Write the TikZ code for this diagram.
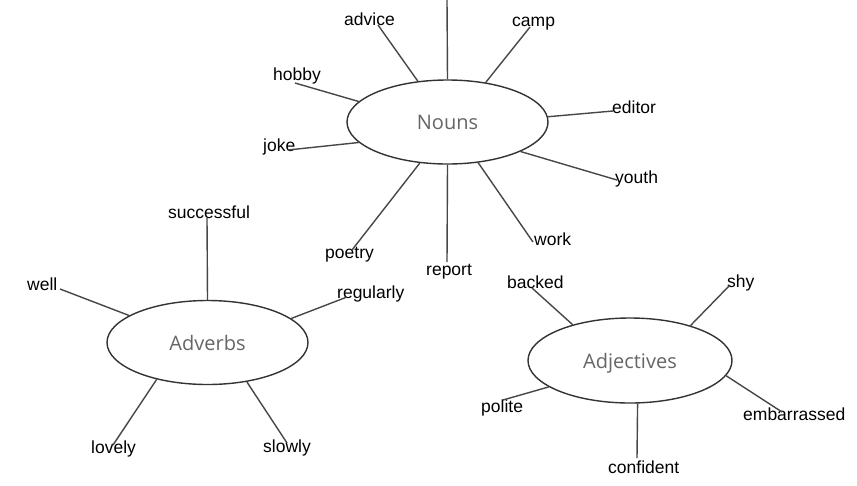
\documentclass[tikz,border=0pt]{standalone}
\usepackage{fontspec}
\setmainfont{Liberation Sans}
\newfontfamily\hubfont{Open Sans}
\usetikzlibrary{shapes.geometric}
\begin{document}
\begin{tikzpicture}[x=1pt,y=-1pt,
  word/.style={anchor=base west, inner sep=0pt, font=\fontsize{17.5}{20}\selectfont},
  hub/.style={draw=black!80, line width=1.4pt, ellipse, inner sep=0pt,
    minimum width=201pt, minimum height=84pt, text depth=0pt,
    font=\hubfont\fontsize{20}{24}\selectfont, text=black!60},
  spoke/.style={draw=black!72, line width=1.4pt}]
\useasboundingbox[fill=white] (0,0) rectangle (857,485);

% hubs
\node[hub] (N) at (447.5,122) {Nouns};
\node[hub] (AV) at (207.5,342.5) {Adverbs};
\node[hub, minimum width=204pt, minimum height=85pt] (AJ) at (630,360.5) {Adjectives};

% words
\node[word] (advice) at (344,25) {advice};
\node[word] (camp) at (512,26) {camp};
\node[word] (hobby) at (273,80) {hobby};
\node[word] (joke) at (263,151) {joke};
\node[word] (editor) at (612,113) {editor};
\node[word] (youth) at (615,183) {youth};
\node[word] (work) at (534,245) {work};
\node[word] (report) at (426,275) {report};
\node[word] (poetry) at (325,258) {poetry};
\node[word] (successful) at (168,218) {successful};
\node[word] (well) at (27,290) {well};
\node[word] (regularly) at (337,298) {regularly};
\node[word] (lovely) at (91,453) {lovely};
\node[word] (slowly) at (263,452) {slowly};
\node[word] (backed) at (507,288) {backed};
\node[word] (shy) at (727,287) {shy};
\node[word] (polite) at (481,412) {polite};
\node[word] (embarrassed) at (743,420) {embarrassed};
\node[word] (confident) at (608,473) {confident};

% spoke ends
\coordinate (e-top) at (447,0);
\coordinate (e-advice) at (378,25);
\coordinate (e-camp) at (530,27);
\coordinate (e-hobby) at (295,83);
\coordinate (e-joke) at (288,150);
\coordinate (e-editor) at (613,111);
\coordinate (e-youth) at (617,180);
\coordinate (e-work) at (533,242);
\coordinate (e-report) at (447,262);
\coordinate (e-poetry) at (352,250);
\coordinate (e-successful) at (207,218);
\coordinate (e-well) at (60,289);
\coordinate (e-regularly) at (347,297);
\coordinate (e-lovely) at (113,445);
\coordinate (e-slowly) at (287,443);
\coordinate (e-backed) at (532,288);
\coordinate (e-shy) at (730,285);
\coordinate (e-polite) at (503,400);
\coordinate (e-embarrassed) at (782,412);
\coordinate (e-confident) at (637,458);

% spokes: Nouns
\draw[spoke] (N.90) -- (e-top);
\draw[spoke] (N.126) -- (e-advice);
\draw[spoke] (N.46) -- (e-camp);
\draw[spoke] (N.167.5) -- (e-hobby);
\draw[spoke] (N.-167) -- (e-joke);
\draw[spoke] (N.3) -- (e-editor);
\draw[spoke] (N.-22.3) -- (e-youth);
\draw[spoke] (N.-53.4) -- (e-work);
\draw[spoke] (N.-90) -- (e-report);
\draw[spoke] (N.-124.5) -- (e-poetry);
% spokes: Adverbs
\draw[spoke] (AV.90) -- (e-successful);
\draw[spoke] (AV.161) -- (e-well);
\draw[spoke] (AV.16) -- (e-regularly);
\draw[spoke] (AV.-144) -- (e-lovely);
\draw[spoke] (AV.-45.7) -- (e-slowly);
% spokes: Adjectives
\draw[spoke] (AJ.148.5) -- (e-backed);
\draw[spoke] (AJ.30.8) -- (e-shy);
\draw[spoke] (AJ.-162) -- (e-polite);
\draw[spoke] (AJ.-9.6) -- (e-embarrassed);
\draw[spoke] (AJ.-80.6) -- (e-confident);
\end{tikzpicture}
\end{document}
